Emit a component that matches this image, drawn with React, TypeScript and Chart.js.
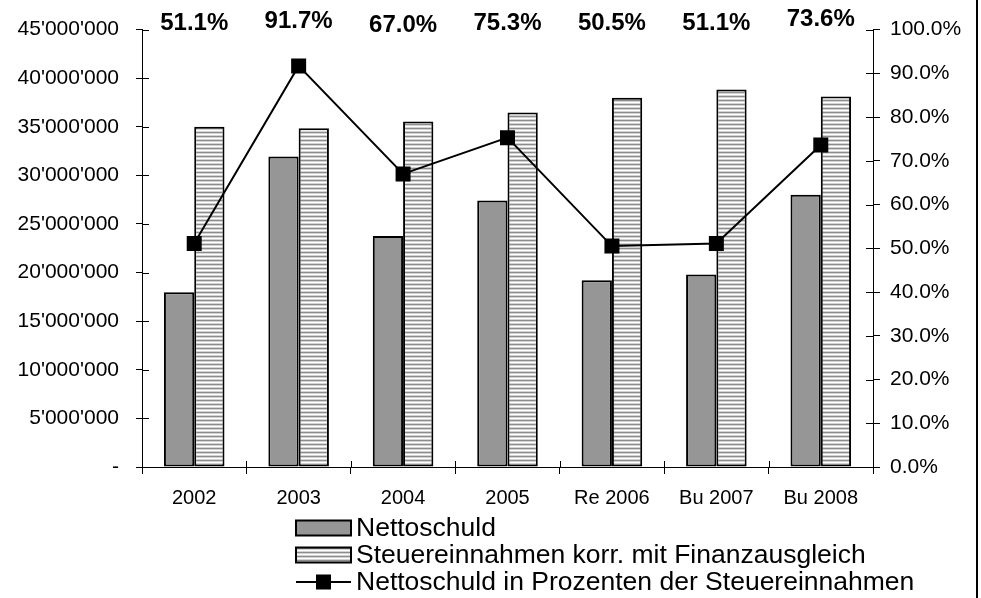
import React, { useEffect, useRef } from "react";
import { Chart, registerables } from "chart.js";

Chart.register(...registerables);

const categories = ["2002", "2003", "2004", "2005", "Re 2006", "Bu 2007", "Bu 2008"];
const nettoschuld = [17980000, 31950000, 23770000, 27430000, 19210000, 19800000, 28020000];
const steuereinnahmen = [35000000, 34860000, 35550000, 36470000, 38000000, 38840000, 38120000];
const prozent = [51.1, 91.7, 67.0, 75.3, 50.5, 51.1, 73.6];
const legendLabels = [
  "Nettoschuld",
  "Steuereinnahmen korr. mit Finanzausgleich",
  "Nettoschuld in Prozenten der Steuereinnahmen",
];

const FONT = '"Liberation Sans", Arial, sans-serif';
const topLabelY = [23, 21, 25, 23, 23, 23, 19];

function fmtMoney(v: number): string {
  if (v === 0) return "-";
  return String(Math.round(v)).replace(/\B(?=(\d{3})+(?!\d))/g, "'");
}

export default function App() {
  const ref = useRef<HTMLCanvasElement | null>(null);

  useEffect(() => {
    const canvas = ref.current;
    if (!canvas) return;

    const pc = document.createElement("canvas");
    pc.width = 4;
    pc.height = 4;
    const pctx = pc.getContext("2d")!;
    const rows = ["#8c8c8c", "#d4d4d4", "#ffffff", "#d4d4d4"];
    rows.forEach((c, i) => {
      pctx.fillStyle = c;
      pctx.fillRect(0, i, 4, 1);
    });
    const pattern = canvas.getContext("2d")!.createPattern(pc, "repeat")!;

    const extras = {
      id: "extras",
      afterDraw(chart: any) {
        const ctx = chart.ctx;
        const x = chart.scales.x;
        const yL = chart.scales.y;
        const yR = chart.scales.yP;
        ctx.save();
        ctx.strokeStyle = "#000";
        ctx.lineWidth = 1;
        ctx.beginPath();
        yL.ticks.forEach((t: any) => {
          const py = Math.round(yL.getPixelForValue(t.value)) + 0.5;
          ctx.moveTo(yL.right, py);
          ctx.lineTo(yL.right + 7, py);
        });
        yR.ticks.forEach((t: any) => {
          const py = Math.round(yR.getPixelForValue(t.value)) + 0.5;
          ctx.moveTo(yR.left, py);
          ctx.lineTo(yR.left - 7, py);
        });
        const n = categories.length;
        for (let i = 0; i <= n; i++) {
          const px = Math.round(x.left + (i * x.width) / n) + 0.5;
          ctx.moveTo(px, x.top);
          ctx.lineTo(px, x.top - 6);
        }
        ctx.stroke();

        ctx.fillStyle = "#000";
        ctx.font = `bold 24px ${FONT}`;
        ctx.textAlign = "center";
        ctx.textBaseline = "middle";
        prozent.forEach((p, i) => {
          ctx.fillText(p.toFixed(1) + "%", x.getPixelForValue(i), topLabelY[i]);
        });

        ctx.font = `26.5px ${FONT}`;
        ctx.textAlign = "left";
        const lx = 296;
        const lw = 55;
        const tx = 356;
        const ys = [528, 555, 582];
        ctx.lineWidth = 2;
        ctx.fillStyle = "#969696";
        ctx.fillRect(lx, ys[0] - 7.5, lw, 15);
        ctx.strokeRect(lx, ys[0] - 7.5, lw, 15);
        ctx.fillStyle = pattern;
        ctx.fillRect(lx, ys[1] - 7.5, lw, 15);
        ctx.strokeRect(lx, ys[1] - 7.5, lw, 15);
        ctx.beginPath();
        ctx.moveTo(lx, ys[2]);
        ctx.lineTo(lx + lw, ys[2]);
        ctx.stroke();
        ctx.fillStyle = "#000";
        ctx.fillRect(lx + lw / 2 - 7.5, ys[2] - 7.5, 15, 15);
        legendLabels.forEach((t, i) => ctx.fillText(t, tx, ys[i] + 1));

        ctx.lineWidth = 2;
        ctx.beginPath();
        ctx.moveTo(977, 0);
        ctx.lineTo(977, 598);
        ctx.stroke();
        ctx.restore();
      },
    };

    const chart = new Chart(canvas, {
      type: "bar",
      data: {
        labels: categories,
        datasets: [
          {
            type: "line",
            label: legendLabels[2],
            data: prozent,
            yAxisID: "yP",
            borderColor: "#000",
            backgroundColor: "#000",
            borderWidth: 2,
            pointStyle: "rect",
            pointRadius: 10.6,
            pointBorderWidth: 0,
            pointBackgroundColor: "#000",
            tension: 0,
            order: 0,
          } as any,
          {
            label: legendLabels[0],
            data: nettoschuld,
            yAxisID: "y",
            backgroundColor: "#969696",
            borderColor: "#000",
            borderWidth: 2,
            borderSkipped: false,
            categoryPercentage: 0.58,
            barPercentage: 1,
            order: 1,
          },
          {
            label: legendLabels[1],
            data: steuereinnahmen,
            yAxisID: "y",
            backgroundColor: pattern as any,
            borderColor: "#000",
            borderWidth: 2,
            borderSkipped: false,
            categoryPercentage: 0.58,
            barPercentage: 1,
            order: 1,
          },
        ],
      },
      options: {
        responsive: false,
        animation: false,
        devicePixelRatio: 1,
        layout: { padding: { top: 29, right: 8, left: 0, bottom: 0 } },
        plugins: { legend: { display: false }, tooltip: { enabled: false } },
        scales: {
          x: {
            grid: { display: true, drawOnChartArea: false, drawTicks: true, tickLength: 7, color: "#000", offset: true },
            border: { display: true, color: "#000", width: 1 },
            ticks: { color: "#000", font: { family: FONT, size: 20 }, padding: 12, maxRotation: 0 },
            afterFit: (s: any) => {
              s.height = 131;
            },
          },
          y: {
            position: "left",
            min: 0,
            max: 45000000,
            grid: { display: true, drawOnChartArea: false, drawTicks: true, tickLength: 6, color: "#000" },
            border: { display: true, color: "#000", width: 1 },
            ticks: {
              stepSize: 5000000,
              color: "#000",
              font: { family: FONT, size: 21 },
              padding: 17,
              callback: (v: any) => fmtMoney(Number(v)),
            },
            afterFit: (s: any) => {
              s.width = 142;
            },
          },
          yP: {
            position: "right",
            min: 0,
            max: 100,
            grid: { display: true, drawOnChartArea: false, drawTicks: true, tickLength: 7, color: "#000" },
            border: { display: true, color: "#000", width: 1 },
            ticks: {
              stepSize: 10,
              color: "#000",
              font: { family: FONT, size: 21 },
              padding: 10,
              callback: (v: any) => Number(v).toFixed(1) + "%",
            },
            afterFit: (s: any) => {
              s.width = 100;
            },
          },
        },
      },
      plugins: [extras],
    });

    return () => chart.destroy();
  }, []);

  return (
    <div style={{ position: "absolute", left: 0, top: 0, width: 981, height: 598, background: "#fff" }}>
      <canvas ref={ref} width={981} height={598} style={{ display: "block" }} />
    </div>
  );
}
